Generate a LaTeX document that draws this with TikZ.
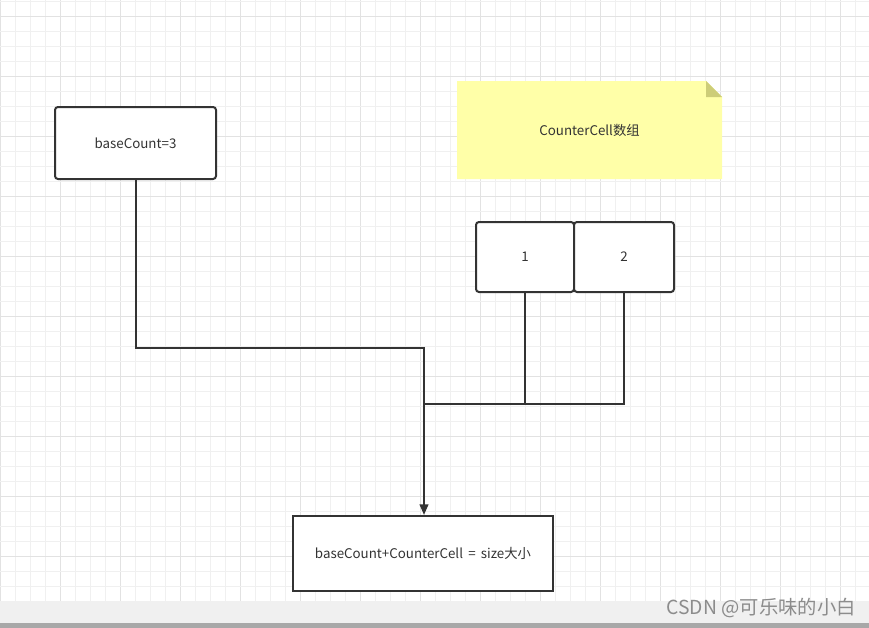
\documentclass[tikz,border=0pt]{standalone}
\usepackage{fontspec}
\setmainfont{Noto Sans CJK SC}
\usetikzlibrary{arrows.meta}
\definecolor{ink}{HTML}{333333}
\definecolor{gridminor}{HTML}{F0F0F0}
\definecolor{gridmajor}{HTML}{E2E2E2}
\definecolor{notefill}{HTML}{FFFFA8}
\definecolor{notefold}{HTML}{CDCD78}
\definecolor{barfill}{HTML}{F0F0F0}
\definecolor{bardark}{HTML}{A8A8A8}
\definecolor{wmark}{HTML}{8C8C8C}
\tikzset{
  box/.style={draw=ink, line width=1.5pt, fill=white, rounded corners=2.25pt, inner sep=0pt,
    font=\fontsize{10}{12}\selectfont, text=ink},
  sharpbox/.style={box, rounded corners=0pt},
  wire/.style={draw=ink, line width=1.5pt},
  arrowwire/.style={wire, -{Triangle[length=8pt,width=6.5pt]}},
  label/.style={font=\fontsize{10}{12}\selectfont, text=ink, inner sep=0pt}
}
\begin{document}
\begin{tikzpicture}[x=0.75pt,y=-0.75pt]
\useasboundingbox (0,0) rectangle (869,628);
\fill[white] (0,0) rectangle (869,628);
% grid
\foreach \i in {0,...,57} {
  \pgfmathtruncatemacro{\m}{mod(\i,4)}
  \ifnum\m=0
    \draw[gridmajor, line width=0.75pt] (\i*15+0.5,0) -- (\i*15+0.5,601);
  \else
    \draw[gridminor, line width=0.75pt] (\i*15+0.5,0) -- (\i*15+0.5,601);
  \fi
}
\foreach \k in {0,...,39} {
  \pgfmathtruncatemacro{\m}{mod(\k,4)}
  \ifnum\m=1
    \draw[gridmajor, line width=0.75pt] (0,\k*15+1) -- (869,\k*15+1);
  \else
    \draw[gridminor, line width=0.75pt] (0,\k*15+1) -- (869,\k*15+1);
  \fi
}
% bottom bar
\fill[barfill] (0,601) rectangle (869,623);
\fill[bardark] (0,623) rectangle (869,628);

% note
\fill[notefill] (457,81) -- (706,81) -- (722,97) -- (722,179) -- (457,179) -- cycle;
\fill[notefold] (706,81) -- (706,97) -- (722,97) -- cycle;
\node[label] (note) at (589.5,130) {CounterCell数组};

% boxes
\node[box, minimum width=120.75pt, minimum height=54pt] (base) at (135.5,143) {baseCount=3};
\node[box, minimum width=73.5pt, minimum height=52.5pt] (c1) at (525,257) {1};
\node[box, minimum width=75pt, minimum height=52.5pt] (c2) at (624,257) {2};
\node[sharpbox, minimum width=195pt, minimum height=56.25pt] (res) at (423,553.5) {baseCount+CounterCell\ \,=\ \,size大小};

% junctions
\coordinate (j1) at (424,348);
\coordinate (j2) at (424,404);

% connectors
\draw[wire] (c1.south) |- (j2);
\draw[wire] (c2.south) |- (j2);
\draw[arrowwire] (base.south) |- (j1) -- (res.north -| j1);

% watermark
\node[anchor=east, inner sep=0pt, text=wmark, font=\fontsize{14.5}{16}\selectfont] (wm) at (856,608) {CSDN @可乐味的小白};
\end{tikzpicture}
\end{document}
